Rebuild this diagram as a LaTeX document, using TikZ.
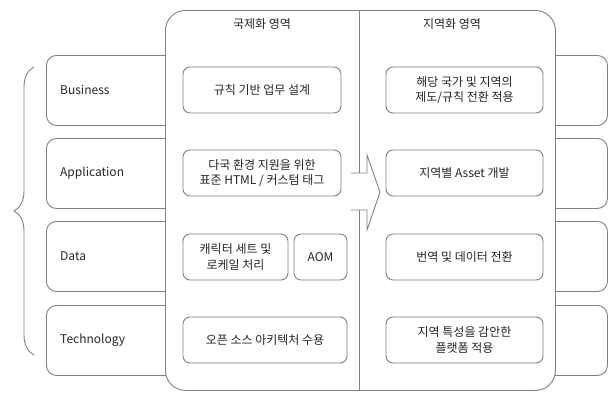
\documentclass[tikz,border=0pt]{standalone}
\usepackage{fontspec}
\setmainfont{Noto Sans CJK KR}
\usetikzlibrary{positioning, decorations.pathreplacing}

\definecolor{linegray}{HTML}{808080}
\definecolor{textgray}{HTML}{262626}

\tikzset{
  layer/.style={draw=linegray, line width=0.9pt, rounded corners=10pt, fill=white,
    minimum width=561pt, minimum height=70pt, inner sep=0pt, anchor=north west},
  layerlabel/.style={anchor=west, inner sep=0pt, text=textgray},
  panel/.style={draw=linegray, line width=0.9pt, rounded corners=20pt, fill=white,
    minimum width=390pt, minimum height=380pt, inner sep=0pt, anchor=north west},
  task/.style={draw=linegray, line width=0.9pt, rounded corners=7pt, align=center,
    minimum height=46pt, inner sep=0pt, text=textgray},
  heading/.style={inner sep=0pt, text=textgray}
}

\begin{document}
\begin{tikzpicture}[x=1pt, y=-1pt, font=\fontsize{12}{15.5}\selectfont]
\useasboundingbox (0,0) rectangle (611,392);

% layers
\node[layer] (business) at (46,55) {};
\node[layer] (application) at (46,138) {};
\node[layer] (data) at (46,221) {};
\node[layer] (technology) at (46,305) {};

\node[layerlabel] (lbusiness) at (60,90) {Business};
\node[layerlabel] (lapplication) at (60,173) {Application};
\node[layerlabel] (ldata) at (60,256) {Data};
\node[layerlabel] (ltechnology) at (60,340) {Technology};

\draw[linegray, line width=0.9pt, decorate, decoration={brace, amplitude=20pt}]
  (34,355) -- (34,67);

% panel
\node[panel] (area) at (165,10) {};
\coordinate (dtop) at (359,10);
\coordinate (dmid1) at (359,173);
\coordinate (dmid2) at (359,210);
\coordinate (dbot) at (359,390);
\draw[linegray, line width=0.9pt] (dtop) -- (dmid1) (dmid2) -- (dbot);

\node[heading] (i18n) at (262,24) {국제화 영역};
\node[heading] (l10n) at (452,24) {지역화 영역};

% arrow
\draw[linegray, line width=0.9pt, line join=miter]
  (351,173) -- (367,173) -- (367,155) -- (380,192) -- (367,230) -- (367,210) -- (351,210);

% internationalization
\node[task, minimum width=158pt] (rule) at (262,90) {규칙 기반 업무 설계};
\node[task, minimum width=158pt] (html) at (262,173) {다국 환경 지원을 위한\\표준 HTML / 커스텀 태그};
\node[task, minimum width=105pt] (charset) at (235.5,257) {캐릭터 세트 및\\로케일 처리};
\node[task, minimum width=53pt] (aom) at (320.5,257) {AOM};
\node[task, minimum width=164pt] (oss) at (265,340) {오픈 소스 아키텍처 수용};

% localization
\node[task, minimum width=157pt] (law) at (464.5,90) {해당 국가 및 지역의\\제도/규칙 전환 적용};
\node[task, minimum width=157pt] (asset) at (464.5,173) {지역별 Asset 개발};
\node[task, minimum width=157pt] (trans) at (464.5,257) {번역 및 데이터 전환};
\node[task, minimum width=157pt] (platform) at (464.5,340) {지역 특성을 감안한\\플랫폼 적용};

\end{tikzpicture}
\end{document}
